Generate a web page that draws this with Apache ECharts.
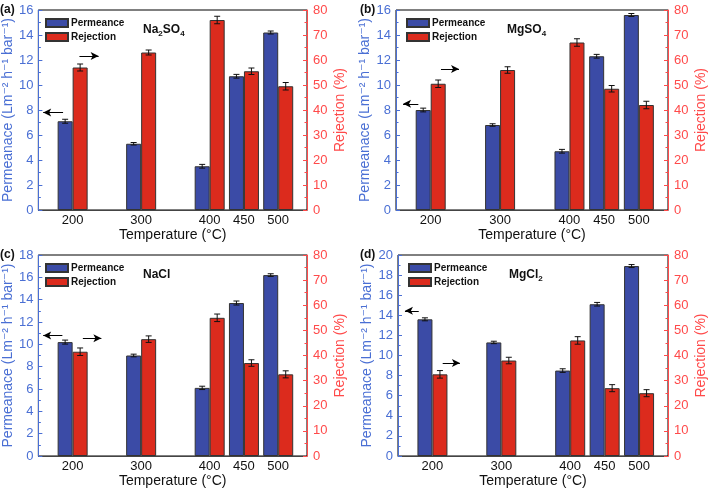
<!DOCTYPE html>
<html><head><meta charset="utf-8">
<script src="https://cdn.jsdelivr.net/npm/echarts@6/dist/echarts.min.js"></script>
<style>html,body{margin:0;padding:0;background:#fff}#c{width:709px;height:489px}</style>
</head><body><div id="c"></div>
<script>
// ---- data ----
const temps = [200, 300, 400, 450, 500];
const panelLetters = ['(a)', '(b)', '(c)', '(d)'];
const saltNames = [['Na','2','SO','4'], ['MgSO','4'], ['NaCl'], ['MgCl','2']];
const leftMax = [16, 16, 18, 20];

const permA = [7.1, 5.3, 3.5, 10.7, 14.2];
const permAErr = [0.16, 0.1, 0.15, 0.15, 0.12];
const rejA = [57, 63, 76, 55.5, 49.5];
const rejAErr = [1.4, 1.0, 1.5, 1.3, 1.5];

const permB = [8.0, 6.8, 4.7, 12.3, 15.6];
const permBErr = [0.15, 0.1, 0.15, 0.15, 0.12];
const rejB = [50.5, 56, 67, 48.5, 42];
const rejBErr = [1.5, 1.3, 1.5, 1.3, 1.5];

const permC = [10.2, 9.0, 6.1, 13.7, 16.2];
const permCErr = [0.18, 0.12, 0.15, 0.18, 0.12];
const rejC = [41.5, 46.5, 55, 37, 32.5];
const rejCErr = [1.5, 1.3, 1.5, 1.3, 1.4];

const permD = [13.6, 11.3, 8.5, 15.1, 18.9];
const permDErr = [0.15, 0.12, 0.18, 0.18, 0.15];
const rejD = [32.5, 38, 46, 27, 25];
const rejDErr = [1.5, 1.3, 1.5, 1.4, 1.4];

// arrow annotations in data units: [xFrom, xTo, y]
const leftArrows = [[168, 197, 7.8], [171, 193, 8.5], [168, 196, 10.8], [171, 191, 14.45]];
const rightArrows = [[199, 227, 61.6], [204, 230, 56.4], [204, 231, 46.9], [204, 229, 37]];

const perms = [permA, permB, permC, permD];
const permErrs = [permAErr, permBErr, permCErr, permDErr];
const rejs = [rejA, rejB, rejC, rejD];
const rejErrs = [rejAErr, rejBErr, rejCErr, rejDErr];

// ---- layout/style ----
const grids = [
  {left: 38, top: 10, width: 269, height: 200},
  {left: 396, top: 10, width: 272, height: 200},
  {left: 38, top: 255, width: 269, height: 201},
  {left: 398, top: 255, width: 270, height: 201}
];
const FONT = 'Liberation Sans, Arial, DejaVu Sans, sans-serif';
const BLUE = '#3b4ba6', RED = '#dc2b1d';
const AXBLUE = '#4a6fd4', AXRED = '#ff4a4a';
const BW = 15;

const option = {
  animation: false,
  textStyle: {fontFamily: FONT},
  grid: [], xAxis: [], yAxis: [], series: [], legend: [], title: []
};

function errRender(side) {
  return function (params, api) {
    const x = api.value(0), v = api.value(1), e = api.value(2);
    const hi = api.coord([x, v + e]);
    const lo = api.coord([x, v - e]);
    const cx = hi[0] + side * BW / 2;
    const cap = 3;
    const st = {stroke: '#111', lineWidth: 1};
    return {type: 'group', children: [
      {type: 'line', shape: {x1: cx, y1: hi[1], x2: cx, y2: lo[1]}, style: st},
      {type: 'line', shape: {x1: cx - cap, y1: hi[1], x2: cx + cap, y2: hi[1]}, style: st},
      {type: 'line', shape: {x1: cx - cap, y1: lo[1], x2: cx + cap, y2: lo[1]}, style: st}
    ]};
  };
}

for (let i = 0; i < 4; i++) {
  const g = grids[i];
  option.grid.push(Object.assign({show: true, borderColor: '#000', borderWidth: 1, backgroundColor: 'transparent'}, g));
  option.xAxis.push({
    type: 'value', gridIndex: i, min: 150, max: 542, interval: 50,
    splitLine: {show: false},
    axisLine: {lineStyle: {color: '#444', width: 1}},
    axisTick: {show: false},
    axisLabel: {color: '#111', fontSize: 13, margin: 4, fontFamily: FONT, showMaxLabel: false,
      formatter: v => temps.indexOf(v) >= 0 ? String(v) : ''},
    name: 'Temperature (°C)', nameLocation: 'middle', nameGap: 17,
    nameTextStyle: {color: '#111', fontSize: 14, fontFamily: FONT}
  });
  option.yAxis.push({
    type: 'value', gridIndex: i, min: 0, max: leftMax[i], interval: 2, position: 'left',
    splitLine: {show: false},
    axisLine: {show: true, lineStyle: {color: AXBLUE, width: 1}},
    axisTick: {show: true, inside: true, length: 4, lineStyle: {color: AXBLUE}},
    minorTick: {show: true, splitNumber: 2, length: 2.5, lineStyle: {color: AXBLUE}},
    axisLabel: {color: AXBLUE, fontSize: 13, margin: 5, fontFamily: FONT},
    name: 'Permeanace (Lm⁻² h⁻¹ bar⁻¹)', nameLocation: 'middle', nameGap: 19, nameRotate: 90,
    nameTextStyle: {color: AXBLUE, fontSize: 14, fontFamily: FONT}
  });
  option.yAxis.push({
    type: 'value', gridIndex: i, min: 0, max: 80, interval: 10, position: 'right',
    splitLine: {show: false},
    axisLine: {show: true, lineStyle: {color: AXRED, width: 1}},
    axisTick: {show: true, inside: true, length: 4, lineStyle: {color: AXRED}},
    minorTick: {show: true, splitNumber: 2, length: 2.5, lineStyle: {color: AXRED}},
    axisLabel: {color: AXRED, fontSize: 13, margin: 6, fontFamily: FONT},
    name: 'Rejection (%)', nameLocation: 'middle', nameGap: 26, nameRotate: 90,
    nameTextStyle: {color: AXRED, fontSize: 14, fontFamily: FONT}
  });
  const yL = 2 * i, yR = 2 * i + 1;
  const la = leftArrows[i], ra = rightArrows[i];
  const arrowLine = {color: '#000', width: 1, type: 'solid'};
  option.series.push({
    name: 'Permeance', type: 'bar', xAxisIndex: i, yAxisIndex: yL,
    barWidth: BW, barGap: '0%',
    itemStyle: {color: BLUE, borderColor: '#333', borderWidth: 1},
    data: temps.map((t, k) => [t, perms[i][k]]),
    markLine: {silent: true, symbol: ['arrow', 'none'], symbolSize: [6, 8], label: {show: false},
      lineStyle: arrowLine, animation: false,
      data: [[{coord: [la[0], la[2]]}, {coord: [la[1], la[2]]}]]}
  });
  option.series.push({
    name: 'Rejection', type: 'bar', xAxisIndex: i, yAxisIndex: yR,
    barWidth: BW, barGap: '0%',
    itemStyle: {color: RED, borderColor: '#333', borderWidth: 1},
    data: temps.map((t, k) => [t, rejs[i][k]]),
    markLine: {silent: true, symbol: ['none', 'arrow'], symbolSize: [6, 8], label: {show: false},
      lineStyle: arrowLine, animation: false,
      data: [[{coord: [ra[0], ra[2]]}, {coord: [ra[1], ra[2]]}]]}
  });
  option.series.push({
    type: 'custom', xAxisIndex: i, yAxisIndex: yL, z: 10, silent: true,
    renderItem: errRender(-1),
    data: temps.map((t, k) => [t, perms[i][k], permErrs[i][k]])
  });
  option.series.push({
    type: 'custom', xAxisIndex: i, yAxisIndex: yR, z: 10, silent: true,
    renderItem: errRender(1),
    data: temps.map((t, k) => [t, rejs[i][k], rejErrs[i][k]])
  });
  option.legend.push({
    data: ['Permeance', 'Rejection'], orient: 'vertical',
    left: g.left + (i % 2 === 0 ? 7 : 10), top: g.top + 8,
    icon: 'rect', itemWidth: 22, itemHeight: 8, itemGap: 4, padding: 0,
    selectedMode: false,
    textStyle: {color: '#111', fontSize: 10, fontWeight: 'bold', fontFamily: FONT, padding: [0, 0, 0, -2]}
  });
  option.title.push({
    text: panelLetters[i], left: (i % 2 === 0 ? 0 : 360), top: g.top - 6,
    textStyle: {fontSize: 12, fontWeight: 'bold', color: '#111', fontFamily: FONT}, padding: 0
  });
  const parts = saltNames[i];
  const rich = parts.map((p, k) => (k % 2 === 0 ? '{m|' : '{s|') + p + '}').join('');
  option.title.push({
    text: rich, left: g.left + (i % 2 === 0 ? 105 : 111), top: g.top + 12, padding: 0,
    textStyle: {
      rich: {
        m: {fontSize: 12, fontWeight: 'bold', color: '#111', fontFamily: FONT, lineHeight: 16},
        s: {fontSize: 8, fontWeight: 'bold', color: '#111', fontFamily: FONT, verticalAlign: 'bottom', lineHeight: 16}
      }
    }
  });
}

const chart = echarts.init(document.getElementById('c'), null, {renderer: 'canvas'});
chart.setOption(option);
</script></body></html>
